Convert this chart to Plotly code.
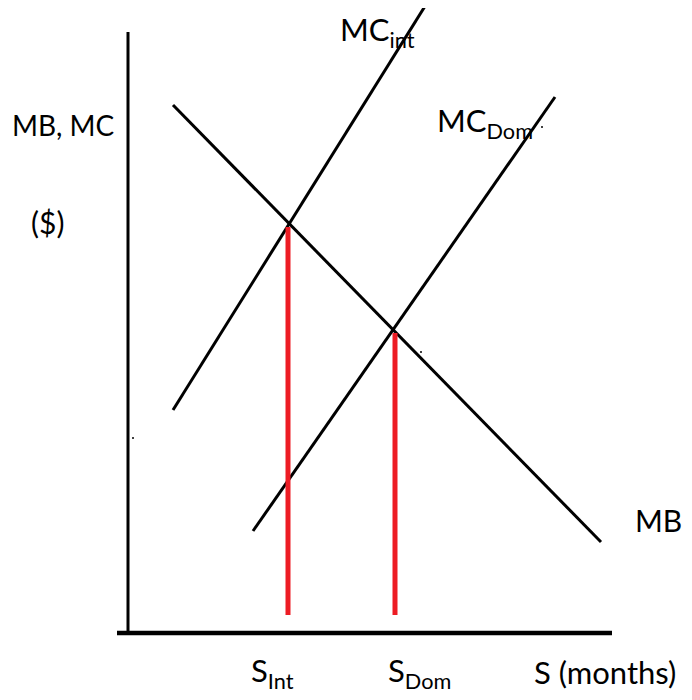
import plotly.graph_objects as go

# Data (quantity S in months on x, $ on y; arbitrary units)
axis_y_x = [0.0, 0.0]
axis_y_y = [0.0, 12.02]
axis_x_x = [-0.22, 9.68]
axis_x_y = [0.0, 0.0]

mb_x = [0.9, 9.46]
mb_y = [10.56, 1.82]

mc_int_x = [0.9, 5.98]
mc_int_y = [4.46, 12.6]

mc_dom_x = [2.5, 8.54]
mc_dom_y = [2.04, 10.72]

s_int_x = [3.2, 3.2]
s_int_y = [0.36, 8.12]

s_dom_x = [5.34, 5.34]
s_dom_y = [0.36, 6.0]

dots_x = [0.1, 5.86, 8.28]
dots_y = [3.9, 5.62, 10.12]

PX = 50.0
X0 = 128
Y0 = 633
OFF = 8  # page body margin


def dx(px):
    return (px - X0) / PX


def dy(py):
    return (Y0 - py) / PX


fig = go.Figure()
black = dict(color="black", width=3)
fig.add_trace(go.Scatter(x=axis_y_x, y=axis_y_y, mode="lines", line=dict(color="black", width=3)))
fig.add_trace(go.Scatter(x=axis_x_x, y=axis_x_y, mode="lines", line=dict(color="black", width=4.5)))
fig.add_trace(go.Scatter(x=mb_x, y=mb_y, mode="lines", line=black))
fig.add_trace(go.Scatter(x=mc_int_x, y=mc_int_y, mode="lines", line=black))
fig.add_trace(go.Scatter(x=mc_dom_x, y=mc_dom_y, mode="lines", line=black))
red = dict(color="#ED1C24", width=5)
fig.add_trace(go.Scatter(x=s_int_x, y=s_int_y, mode="lines", line=red))
fig.add_trace(go.Scatter(x=s_dom_x, y=s_dom_y, mode="lines", line=red))
fig.add_trace(go.Scatter(x=dots_x, y=dots_y, mode="markers", marker=dict(color="black", size=2)))

font_family = "Lato, Open Sans, sans-serif"
# text, x px, y px, anchor, size
labels = [
    ("MB, MC", 10, 125, "left", 28),
    ("($)", 47, 222, "center", 30),
    ("MC<sub>int</sub>", 377, 8, "top", 31),
    ("MC<sub>Dom</sub>", 485, 122, "center", 31),
    ("MB", 684, 520, "right", 30),
    ("S<sub>Int</sub>", 272, 672, "center", 31),
    ("S<sub>Dom</sub>", 419, 672, "center", 31),
    ("S (months)", 605, 672, "center", 31),
]
for text, px, py, anchor, size in labels:
    if anchor == "top":
        xa, ya = "center", "top"
    else:
        xa, ya = anchor, "middle"
    fig.add_annotation(x=dx(px), y=dy(py), text=text, showarrow=False,
                       font=dict(family=font_family, size=size, color="black"),
                       xanchor=xa, yanchor=ya)

fig.update_layout(
    width=692 - OFF, height=700 - OFF,
    margin=dict(l=0, r=0, t=0, b=0),
    paper_bgcolor="white", plot_bgcolor="white",
    showlegend=False,
    xaxis=dict(range=[dx(OFF), dx(692)], visible=False, fixedrange=True),
    yaxis=dict(range=[dy(700), dy(OFF)], visible=False, fixedrange=True),
)

fig.write_html("out.html")
